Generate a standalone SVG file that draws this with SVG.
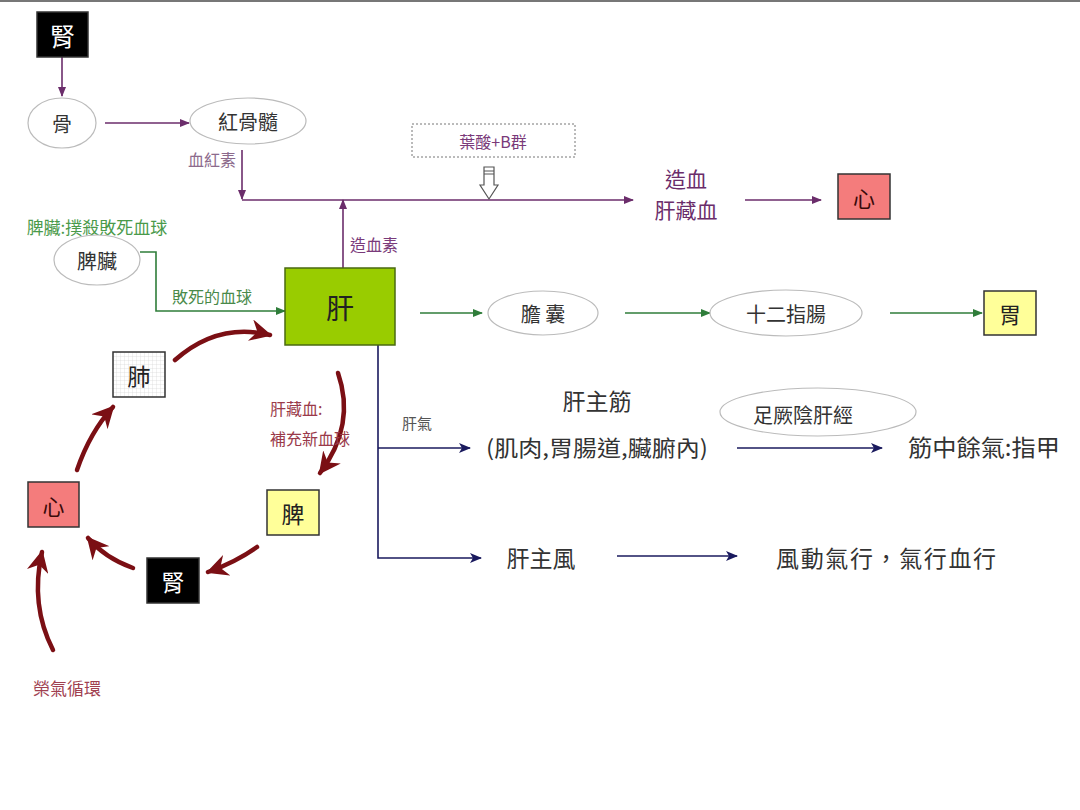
<svg xmlns="http://www.w3.org/2000/svg" width="1080" height="810" viewBox="0 0 1080 810">
<style>
text{font-family:"Noto Sans CJK TC","Noto Sans CJK SC",sans-serif;text-anchor:middle;dominant-baseline:central}
.p{stroke:#6b2d6b;stroke-width:1.6;fill:none}
.g{stroke:#2f7d3a;stroke-width:1.6;fill:none}
.n{stroke:#1a1a5e;stroke-width:1.6;fill:none}
.r{stroke:#7b0f14;stroke-width:4.5;fill:none;stroke-linecap:round}
.ell{fill:#fff;stroke:#bbb;stroke-width:1.2}
.box{stroke:#333;stroke-width:1.5}
.t{fill:#333}
</style>
<defs>
<marker id="ap" markerWidth="10" markerHeight="8" refX="9" refY="4" orient="auto" markerUnits="userSpaceOnUse"><path d="M0,0 L10,4 L0,8 Z" fill="#6b2d6b"/></marker>
<marker id="ag" markerWidth="10" markerHeight="8" refX="9" refY="4" orient="auto" markerUnits="userSpaceOnUse"><path d="M0,0 L10,4 L0,8 Z" fill="#2f7d3a"/></marker>
<marker id="an" markerWidth="12" markerHeight="10" refX="11" refY="5" orient="auto" markerUnits="userSpaceOnUse"><path d="M0,0 L12,5 L0,10 L3,5 Z" fill="#1a1a5e"/></marker>
<marker id="ar" markerWidth="24" markerHeight="22" refX="20" refY="11" orient="auto" markerUnits="userSpaceOnUse"><path d="M0,0 L22,11 L0,22 L7,11 Z" fill="#7b0f14"/></marker>
<pattern id="grid" width="4" height="4" patternUnits="userSpaceOnUse"><rect width="4" height="4" fill="#fff"/><path d="M4,0 L0,0 L0,4" fill="none" stroke="#cfcfcf" stroke-width="0.6"/></pattern>
</defs>
<rect width="1080" height="810" fill="#fff"/>
<line x1="0" y1="1" x2="1080" y2="1" stroke="#777" stroke-width="2"/>

<g id="connectors">
<line class="p" x1="62" y1="57" x2="62" y2="96" marker-end="url(#ap)"/>
<line class="p" x1="105" y1="123" x2="189" y2="123" marker-end="url(#ap)"/>
<line class="p" x1="242" y1="150" x2="242" y2="199" marker-end="url(#ap)"/>
<line class="p" x1="242" y1="200" x2="633" y2="200" marker-end="url(#ap)"/>
<line class="p" x1="343" y1="268" x2="343" y2="200" marker-end="url(#ap)"/>
<line class="p" x1="745" y1="200" x2="821" y2="200" marker-end="url(#ap)"/>
<polyline class="g" points="140,252 156,252 156,311 285,311" marker-end="url(#ag)"/>
<line class="g" x1="420" y1="313" x2="482" y2="313" marker-end="url(#ag)"/>
<line class="g" x1="625" y1="313" x2="710" y2="313" marker-end="url(#ag)"/>
<line class="g" x1="890" y1="313" x2="982" y2="313" marker-end="url(#ag)"/>
<polyline class="n" points="378,345 378,558 481,558" marker-end="url(#an)"/>
<line class="n" x1="378" y1="448" x2="470" y2="448" marker-end="url(#an)"/>
<line class="n" x1="737" y1="448" x2="882" y2="448" marker-end="url(#an)"/>
<line class="n" x1="617" y1="556" x2="737" y2="556" marker-end="url(#an)"/>
<path class="r" d="M175,360 Q218,322 270,335" marker-end="url(#ar)"/>
<path class="r" d="M338,373 Q356,425 320,473" marker-end="url(#ar)"/>
<path class="r" d="M257,547 Q236,562 208,572" marker-end="url(#ar)"/>
<path class="r" d="M133,568 Q105,558 88,538" marker-end="url(#ar)"/>
<path class="r" d="M77,470 Q90,432 113,407" marker-end="url(#ar)"/>
<path class="r" d="M53,650 Q30,605 42,552" marker-end="url(#ar)"/>
<polygon points="484,167 494,167 494,185 498,185 489,199 480,185 484,185" fill="#fff" stroke="#555" stroke-width="1.2"/>
<line x1="484" y1="171" x2="494" y2="171" stroke="#555" stroke-width="1"/>
<line x1="484" y1="174" x2="494" y2="174" stroke="#555" stroke-width="1"/>
</g>

<g id="kidney-top"><rect class="box" x="37" y="12" width="51" height="45" fill="#000"/><text x="62.5" y="35" font-size="25" fill="#fff">腎</text></g>
<g id="bone"><ellipse class="ell" cx="62" cy="123" rx="34" ry="25"/><text class="t" x="62" y="123" font-size="20">骨</text></g>
<g id="marrow"><ellipse class="ell" cx="248" cy="121" rx="58" ry="23"/><text class="t" x="248" y="121" font-size="20">紅骨髓</text></g>
<g id="label-hemoglobin"><text x="212" y="159" font-size="16" fill="#8c6a8c">血紅素</text></g>
<g id="folate"><rect x="412" y="124" width="163" height="33" fill="#fff" stroke="#777" stroke-width="1" stroke-dasharray="2,2"/><text x="493" y="141" font-size="16" fill="#7a3a7a">葉酸+B群</text></g>
<g id="blood-make"><text x="686" y="178" font-size="21" fill="#6b2d6b">造血</text><text x="686" y="209" font-size="21" fill="#6b2d6b">肝藏血</text></g>
<g id="heart-top"><rect class="box" x="838" y="174" width="52" height="45" fill="#f47c7c"/><text x="864" y="197" font-size="22" fill="#3a0a0a">心</text></g>
<g id="label-hematopoietin"><text x="374" y="244" font-size="16" fill="#7a3a7a">造血素</text></g>
<g id="label-spleen-kill"><text x="97" y="226" font-size="17" fill="#4a9a4a">脾臟:撲殺敗死血球</text></g>
<g id="spleen-organ"><ellipse class="ell" cx="97" cy="260" rx="43" ry="25"/><text class="t" x="97" y="260" font-size="20">脾臟</text></g>
<g id="label-dead-cells"><text x="212" y="296" font-size="16" fill="#4a8a4a">敗死的血球</text></g>
<g id="liver"><rect x="285" y="268" width="110" height="77" fill="#99cc00" stroke="#4a6a10" stroke-width="1.5"/><text x="340" y="307" font-size="28" fill="#222">肝</text></g>
<g id="gallbladder"><ellipse class="ell" cx="543" cy="313" rx="55" ry="22"/><text class="t" x="543" y="313" font-size="20">膽 囊</text></g>
<g id="duodenum"><ellipse class="ell" cx="786" cy="313" rx="76" ry="23"/><text class="t" x="786" y="313" font-size="20">十二指腸</text></g>
<g id="stomach"><rect class="box" x="984" y="291" width="52" height="44" fill="#ffff99"/><text x="1010" y="313" font-size="22" fill="#222">胃</text></g>
<g id="lung"><rect class="box" x="113" y="352" width="52" height="45" fill="url(#grid)"/><text x="139" y="375" font-size="23" fill="#222">肺</text></g>
<g id="heart"><rect class="box" x="28" y="482" width="51" height="45" fill="#f47c7c"/><text x="53.5" y="505" font-size="22" fill="#3a0a0a">心</text></g>
<g id="spleen"><rect class="box" x="267" y="490" width="52" height="45" fill="#ffff99"/><text x="293" y="513" font-size="23" fill="#222">脾</text></g>
<g id="kidney"><rect class="box" x="147" y="558" width="52" height="45" fill="#000"/><text x="173" y="581" font-size="23" fill="#fff">腎</text></g>
<g id="label-liver-blood"><text x="270" y="408" font-size="16" fill="#9a3a4a" style="text-anchor:start">肝藏血:</text><text x="270" y="438" font-size="16" fill="#9a3a4a" style="text-anchor:start">補充新血球</text></g>
<g id="label-circulation"><text x="67" y="687" font-size="17" fill="#a04050">榮氣循環</text></g>
<g id="label-liver-qi"><text x="417" y="422" font-size="15" fill="#555">肝氣</text></g>
<g id="tendons"><text class="t" x="597" y="400" font-size="23">肝主筋</text><text class="t" x="597" y="446" font-size="22" textLength="222" lengthAdjust="spacingAndGlyphs">(肌肉,胃腸道,臟腑內)</text></g>
<g id="meridian"><ellipse class="ell" cx="818" cy="412" rx="98" ry="24"/><text class="t" x="803" y="414" font-size="20">足厥陰肝經</text></g>
<g id="nails"><text class="t" x="984" y="446" font-size="23" textLength="152" lengthAdjust="spacingAndGlyphs">筋中餘氣:指甲</text></g>
<g id="wind"><text class="t" x="541" y="557" font-size="23">肝主風</text></g>
<g id="wind-effect"><text class="t" x="886" y="557" font-size="23" textLength="220" lengthAdjust="spacing">風動氣行，氣行血行</text></g>
</svg>
